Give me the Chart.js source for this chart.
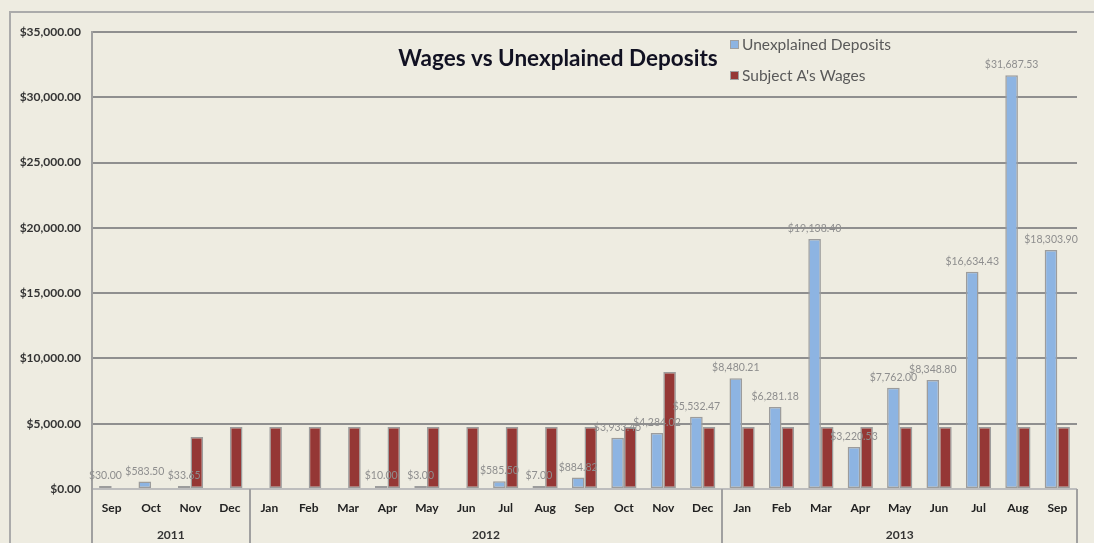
<!DOCTYPE html>
<html>
<head>
<meta charset="utf-8">
<script src="https://cdn.jsdelivr.net/npm/chart.js@4.4.1/dist/chart.umd.min.js"></script>
<style>
  html, body { margin: 0; padding: 0; background: #EEECE1; }
  #wrap { width: 1094px; height: 543px; position: relative; }
</style>
</head>
<body>
<div id="wrap"><canvas id="c" width="1094" height="543"></canvas></div>
<script>
const months = ['Sep','Oct','Nov','Dec','Jan','Feb','Mar','Apr','May','Jun','Jul','Aug','Sep','Oct','Nov','Dec','Jan','Feb','Mar','Apr','May','Jun','Jul','Aug','Sep'];
const years = ['2011','2012','2013'];
const yearSpans = [4, 12, 9];
const deposits = [30.00, 583.50, 33.65, null, null, null, null, 10.00, 3.00, null, 585.50, 7.00, 884.82, 3933.45, 4284.02, 5532.47, 8480.21, 6281.18, 19138.40, 3220.53, 7762.00, 8348.80, 16634.43, 31687.53, 18303.90];
const wages = [null, null, 3980, 4750, 4750, 4750, 4750, 4750, 4750, 4750, 4750, 4750, 4750, 4750, 8960, 4750, 4750, 4750, 4750, 4750, 4750, 4750, 4750, 4750, 4750];
const seriesNames = ['Unexplained Deposits', "Subject A's Wages"];
const seriesColors = ['#8DB4E2', '#953735'];
const chartTitle = 'Wages vs Unexplained Deposits';
const yTicks = { min: 0, max: 35000, step: 5000 };

const FONT = 'Lato, "Open Sans", "DejaVu Sans", sans-serif';

function money(v) {
  return '$' + v.toLocaleString('en-US', { minimumFractionDigits: 2, maximumFractionDigits: 2 });
}

const decor = {
  id: 'decor',
  beforeDraw(chart) {
    const ctx = chart.ctx;
    ctx.save();
    ctx.fillStyle = '#EEECE1';
    ctx.fillRect(0, 0, chart.width, chart.height);
    ctx.strokeStyle = '#ABABAB';
    ctx.lineWidth = 2;
    ctx.beginPath();
    ctx.moveTo(10, chart.height);
    ctx.lineTo(10, 12);
    ctx.lineTo(chart.width, 12);
    ctx.stroke();
    ctx.restore();
  },
  afterDraw(chart) {
    const ctx = chart.ctx;
    const area = chart.chartArea;
    ctx.save();
    // data labels for deposits
    const meta = chart.getDatasetMeta(0);
    ctx.font = '10.5px ' + FONT;
    ctx.fillStyle = '#8E8E8E';
    ctx.textAlign = 'center';
    ctx.textBaseline = 'bottom';
    meta.data.forEach((bar, i) => {
      const v = deposits[i];
      if (v === null || v === undefined) return;
      ctx.fillText(money(v), bar.x, Math.min(bar.y, area.bottom - 3) - 5);
    });
    // year separators and labels
    ctx.strokeStyle = '#A0A0A0';
    ctx.lineWidth = 2;
    const step = (area.right - area.left) / months.length;
    let start = 0;
    const bounds = [area.left];
    yearSpans.forEach(s => { start += s; bounds.push(area.left + start * step); });
    bounds.forEach(b => {
      ctx.beginPath();
      ctx.moveTo(Math.round(b), area.bottom);
      ctx.lineTo(Math.round(b), chart.height);
      ctx.stroke();
    });
    ctx.font = 'bold 12px ' + FONT;
    ctx.fillStyle = '#333333';
    ctx.textBaseline = 'middle';
    years.forEach((y, i) => {
      ctx.fillText(y, (bounds[i] + bounds[i + 1]) / 2, 535);
    });
    // title
    ctx.font = 'bold 22.5px ' + FONT;
    ctx.fillStyle = '#111122';
    ctx.textAlign = 'center';
    ctx.fillText(chartTitle, 558, 59);
    // legend
    ctx.font = '15.5px ' + FONT;
    ctx.textAlign = 'left';
    const ly = [45, 76];
    seriesNames.forEach((n, i) => {
      ctx.fillStyle = seriesColors[i];
      ctx.fillRect(730, ly[i] - 5, 9, 9);
      ctx.strokeStyle = '#A0A0A0';
      ctx.lineWidth = 1;
      ctx.strokeRect(730.5, ly[i] - 4.5, 8, 8);
      ctx.fillStyle = '#595959';
      ctx.fillText(n, 742, ly[i]);
    });
    ctx.restore();
  }
};

new Chart(document.getElementById('c'), {
  type: 'bar',
  data: {
    labels: months,
    datasets: [
      { label: seriesNames[0], data: deposits, backgroundColor: seriesColors[0], borderColor: '#9C9C9C', borderWidth: 1.5, borderSkipped: false, minBarLength: 3 },
      { label: seriesNames[1], data: wages, backgroundColor: seriesColors[1], borderColor: '#9C9C9C', borderWidth: 1.5, borderSkipped: false }
    ]
  },
  options: {
    responsive: false,
    animation: false,
    devicePixelRatio: 1,
    layout: { padding: { left: 0, top: 32, right: 17, bottom: 0 } },
    datasets: { bar: { categoryPercentage: 0.64, barPercentage: 1.0 } },
    plugins: { legend: { display: false }, title: { display: false }, tooltip: { enabled: false } },
    scales: {
      x: {
        grid: { display: false, drawTicks: false },
        border: { display: false },
        ticks: { color: '#222222', font: { family: FONT, size: 12, weight: 'bold' }, padding: 12, maxRotation: 0, autoSkip: false },
        afterFit(s) { s.height = 54; }
      },
      y: {
        min: yTicks.min, max: yTicks.max,
        grid: {
          color: c => (c.tick && c.tick.value === 0) ? '#BDBDBD' : '#8F8F8F',
          lineWidth: 2, drawTicks: false
        },
        border: { display: true, color: '#A0A0A0', width: 2 },
        ticks: {
          stepSize: yTicks.step, color: '#333333', padding: 11,
          font: { family: FONT, size: 12, weight: 'bold' },
          callback: v => money(v)
        },
        afterFit(s) { s.width = 92; }
      }
    }
  },
  plugins: [decor]
});
</script>
</body>
</html>
